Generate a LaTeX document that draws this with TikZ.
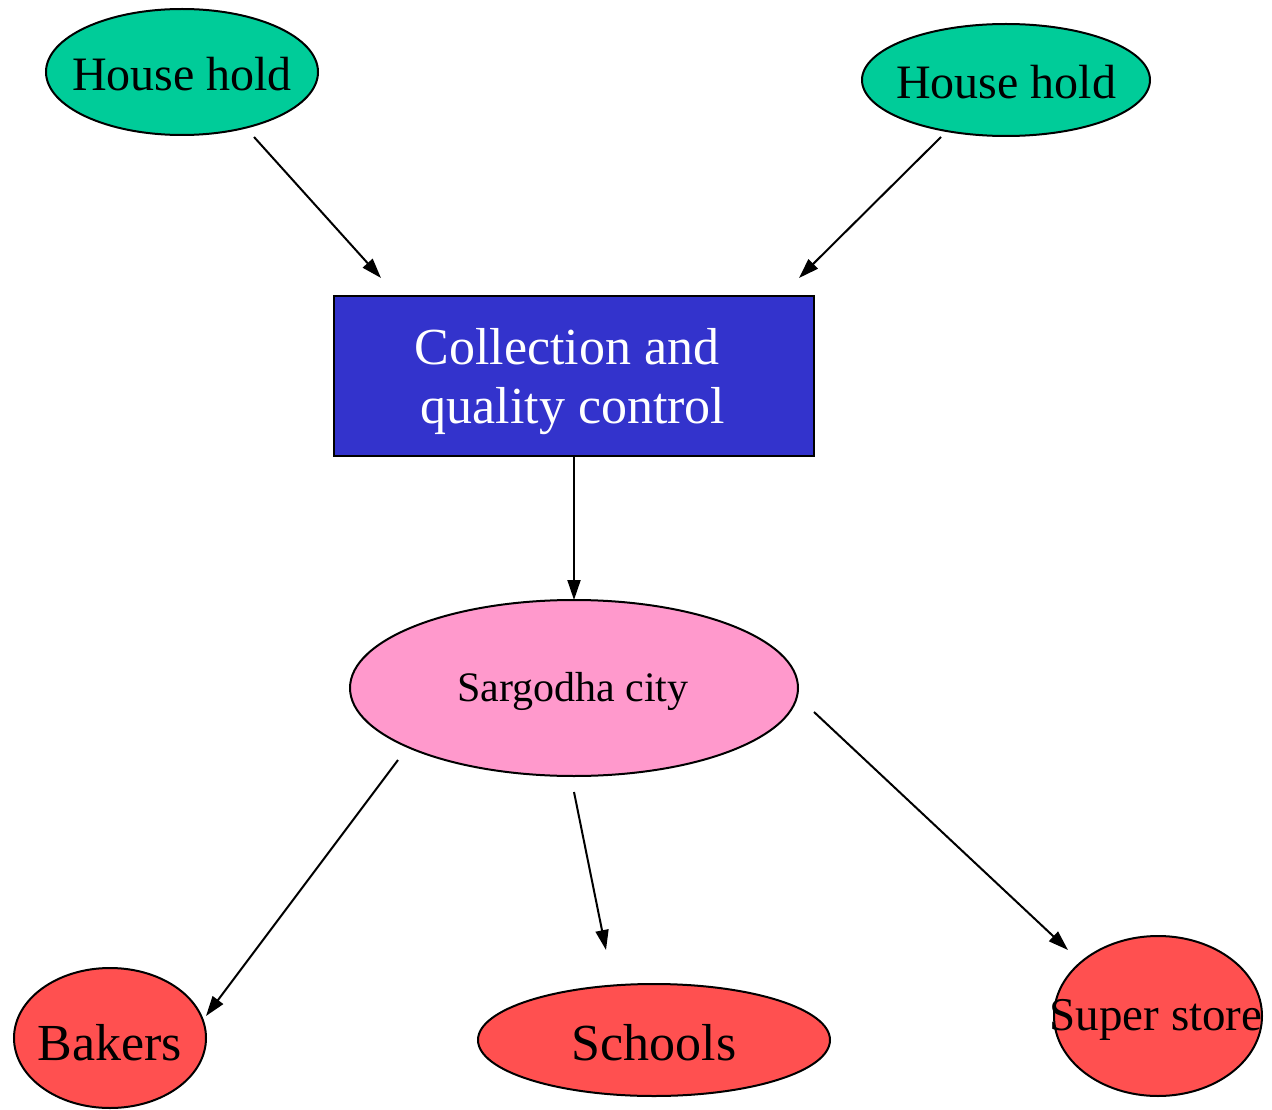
\documentclass[tikz,border=0pt]{standalone}
\usepackage{fontspec}
\setmainfont{Liberation Serif}
\usetikzlibrary{shapes.geometric,arrows.meta}
\definecolor{hgreen}{HTML}{00CC99}
\definecolor{cblue}{HTML}{3333CC}
\definecolor{spink}{HTML}{FF99CC}
\definecolor{dred}{HTML}{FF5050}
\begin{document}
\begin{tikzpicture}[x=1pt,y=-1pt,
  ell/.style={ellipse,draw=black,line width=2pt,inner sep=0pt},
  conn/.style={line width=2pt,-{Triangle[length=20pt,width=13pt]}},
  fs/.style={font=\fontsize{#1}{#1}\selectfont,inner sep=0pt}]
\useasboundingbox (0,0) rectangle (1272,1110);
\node[ell,fill=hgreen,minimum width=272,minimum height=126] (h1) at (182,72) {};
\node[fs=48] (h1t) at (182,74) {House hold};
\node[ell,fill=hgreen,minimum width=288,minimum height=112] (h2) at (1006,80) {};
\node[fs=48] (h2t) at (1006,82) {House hold};
\node[draw=black,line width=2pt,fill=cblue,minimum width=480,minimum height=160,inner sep=0pt] (cq) at (574,376) {};
\node[fs=52,text=white] (cq1) at (567,347) {Collection and};
\node[fs=52,text=white] (cq2) at (573,411) {quality control};
\node[ell,fill=spink,minimum width=448,minimum height=176] (sc) at (574,688) {};
\node[fs=42] (sct) at (573,691) {Sargodha city};
\node[ell,fill=dred,minimum width=192,minimum height=140] (bk) at (110,1038) {};
\node[fs=52] (bkt) at (110,1043) {Bakers};
\node[ell,fill=dred,minimum width=352,minimum height=112] (sch) at (654,1040) {};
\node[fs=52] (scht) at (654,1043) {Schools};
\node[ell,fill=dred,minimum width=208,minimum height=160] (ss) at (1158,1016) {};
\node[fs=47] (sst) at (1156,1020) {Super store};
\coordinate (a1s) at (254,137); \coordinate (a1e) at (381,278);
\coordinate (a2s) at (941,137); \coordinate (a2e) at (799,278);
\coordinate (a3s) at (574,456); \coordinate (a3e) at (574,600);
\coordinate (a4s) at (398,760); \coordinate (a4e) at (206,1016);
\coordinate (a5s) at (574,792); \coordinate (a5e) at (606,950);
\coordinate (a6s) at (814,712); \coordinate (a6e) at (1068,950);
\draw[conn] (a1s) -- (a1e);
\draw[conn] (a2s) -- (a2e);
\draw[conn] (a3s) -- (a3e);
\draw[conn] (a4s) -- (a4e);
\draw[conn] (a5s) -- (a5e);
\draw[conn] (a6s) -- (a6e);
\end{tikzpicture}
\end{document}
